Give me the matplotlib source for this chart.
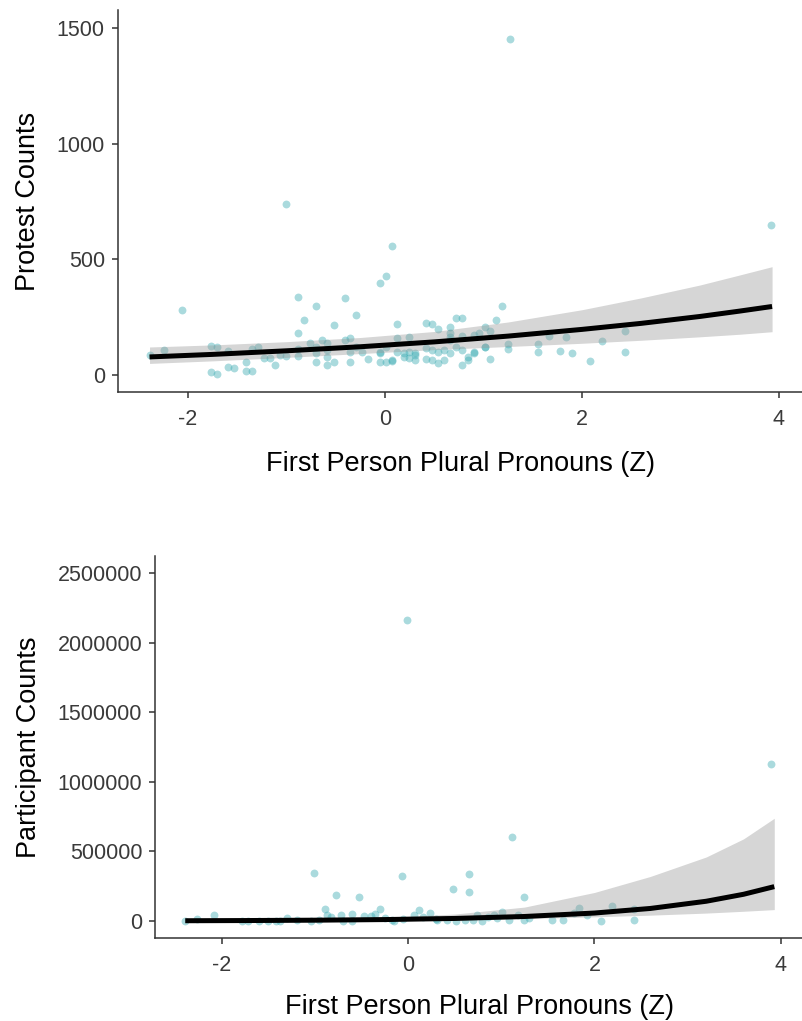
import matplotlib
matplotlib.use("Agg")
import matplotlib.pyplot as plt
import numpy as np

plt.rcParams['font.family'] = ['Liberation Sans', 'DejaVu Sans']

# ---------------- data: protest counts (top panel) ----------------
protest_x = [-2.39, -2.24, -2.06, -1.77, -1.71, -1.77, -1.71, -1.59, -1.59, -1.53, -1.41, -1.41,
             -1.35, -1.35, -1.29, -1.23, -1.17, -1.12, -1.07, -1.00, -1.00, -0.88, -0.88, -0.88,
             -0.88, -0.82, -0.76, -0.70, -0.70, -0.70, -0.70, -0.64, -0.59, -0.59, -0.59, -0.59,
             -0.52, -0.52, -0.41, -0.41, -0.35, -0.35, -0.35, -0.29, -0.29, -0.23, -0.17, -0.05,
             -0.05, -0.05, -0.05, 0.01, 0.01, 0.01, 0.07, 0.07, 0.07, 0.12, 0.12, 0.12, 0.19,
             0.19, 0.24, 0.24, 0.24, 0.30, 0.30, 0.30, 0.42, 0.42, 0.42, 0.48, 0.48, 0.48, 0.54,
             0.54, 0.54, 0.60, 0.60, 0.66, 0.66, 0.66, 0.66, 0.66, 0.72, 0.72, 0.78, 0.78, 0.78,
             0.78, 0.84, 0.84, 0.90, 0.90, 0.90, 0.95, 1.02, 1.02, 1.02, 1.07, 1.07, 1.13, 1.19,
             1.25, 1.25, 1.27, 1.55, 1.55, 1.67, 1.78, 1.84, 1.90, 2.08, 2.20, 2.44, 2.44, 3.92]
protest_y = [85, 108, 281, 127, 122, 14, 4, 105, 33, 29, 57, 17,
             19, 112, 122, 75, 75, 43, 86, 83, 739, 338, 183, 112,
             82, 236, 137, 300, 122, 94, 57, 151, 137, 108, 79, 42,
             215, 57, 331, 151, 158, 98, 57, 258, 122, 98, 68, 399,
             94, 57, 101, 429, 122, 57, 557, 65, 62, 222, 158, 101, 94,
             76, 166, 101, 72, 94, 65, 86, 226, 115, 68, 220, 65, 108, 199,
             101, 50, 108, 65, 209, 180, 166, 151, 94, 245, 122, 245, 170, 108,
             43, 65, 79, 173, 94, 101, 180, 209, 122, 119, 191, 68, 238, 297,
             132, 112, 1452, 134, 98, 170, 105, 164, 95, 60, 147, 190, 101, 648]

# fitted curve and confidence band
fit_x = [-2.39, -1.75, -1.0, -0.25, 0.5, 1.25, 2.0, 2.6, 3.2, 3.6, 3.93]
protest_fit = [78, 89, 104.5, 122, 143, 168, 197, 223, 253, 276, 296]
protest_lo = [50, 61, 76, 92.5, 109.5, 123, 137, 150, 165, 176, 187]
protest_hi = [121, 130, 144, 162, 188, 229, 282, 333, 389, 432, 468]

# ---------------- data: participant counts (bottom panel) ----------------
part_x = [-0.01, 3.90, 1.12, -1.01, -0.06, 0.65, 0.48, 0.65, 1.24, -0.30, -0.77, -0.53, -0.89,
          -2.08, -2.26, -1.78, -1.72, -1.60, -1.42, -1.37, -1.30, -1.19, -1.04, -0.87, -0.83,
          -0.72, -0.70, -0.60, -0.60, -0.47, -0.40, -0.35, -0.25, -0.17, -0.05, 0.06, 0.12,
          0.16, 0.24, 0.31, 0.42, 0.52, 0.61, 0.74, 0.79, 0.86, 0.92, 1.01, 1.08, 1.18, 1.24,
          1.54, 1.66, 1.78, 1.84, 1.92, 2.07, 2.19, 2.43, 2.43,
          -2.39, -1.50, -0.95, -0.15, 0.30, 0.70, 0.95, 1.30]
part_y = [2162000, 1128000, 603000, 347000, 323000, 338000, 230000, 206000, 172000, 84000,
          187000, 170000, 84000, 43000, 12000, 0, 0, 0, 0, 0, 19000, 7000, 0, 43000, 31000,
          43000, 0, 50000, 0, 36000, 36000, 50000, 19000, 7000, 12000, 43000, 79000,
          31000, 55000, 7000, 7000, 0, 7000, 43000, 0, 31000, 43000, 67000, 7000, 43000, 7000,
          7000, 7000, 55000, 91000, 43000, 2000, 110000, 84000, 7000,
          1000, 2000, 5000, 3000, 15000, 10000, 20000, 25000]

part_fit = [2060, 3350, 5910, 10400, 18400, 32500, 57300, 90200, 142000, 192000, 247000]
part_lo = [1000, 1600, 2800, 5000, 8000, 17000, 30000, 42000, 57000, 70000, 82000]
part_hi = [5000, 8000, 14000, 27000, 50000, 100000, 205000, 320000, 460000, 590000, 738000]

protest_ticks = [0, 500, 1000, 1500]
part_ticks = [0, 500000, 1000000, 1500000, 2000000, 2500000]
x_ticks = [-2, 0, 2, 4]

W, H = 802, 1021
fig = plt.figure(figsize=(W / 100, H / 100), dpi=100)

XLIM = (-2.71, 4.25)


def axes_px(left, right, top, bottom):
    return fig.add_axes([left / W, 1 - bottom / H, (right - left) / W, (bottom - top) / H])


ax1 = axes_px(118, 803.6, 10, 392)
ax2 = axes_px(155.4, 804.1, 556, 938)

point_color = '#35a8b0'
axis_col = '#333333'


def style(ax, ylabel, yticks, xlabelpad):
    for s in ['top', 'right']:
        ax.spines[s].set_visible(False)
    for s in ['left', 'bottom']:
        ax.spines[s].set_color(axis_col)
        ax.spines[s].set_linewidth(1.1)
    ax.tick_params(axis='both', colors=axis_col, length=4.5, width=1.1,
                   labelsize=15.5, labelcolor='#3a3a3a')
    ax.tick_params(axis='x', pad=8)
    ax.tick_params(axis='y', pad=5)
    ax.set_xticks(x_ticks)
    ax.set_xticklabels([str(t) for t in x_ticks])
    ax.set_yticks(yticks)
    ax.set_yticklabels([str(t) for t in yticks])
    ax.set_xlim(*XLIM)
    ax.set_xlabel('First Person Plural Pronouns (Z)', fontsize=19.5, color='black',
                  labelpad=xlabelpad)
    ax.set_ylabel(ylabel, fontsize=19.5, color='black', labelpad=11)
    ax.set_facecolor('white')


# top panel
ax1.scatter(protest_x, protest_y, s=32, color=point_color, alpha=0.42, linewidths=0, zorder=2)
ax1.fill_between(fit_x, protest_lo, protest_hi, color='#999999', alpha=0.4, linewidth=0, zorder=3)
ax1.plot(fit_x, protest_fit, color='black', linewidth=3.6, solid_capstyle='butt', zorder=4)
style(ax1, 'Protest Counts', protest_ticks, 15)
ax1.set_ylim(-73.5, 1577)

# bottom panel
ax2.scatter(part_x, part_y, s=32, color=point_color, alpha=0.42, linewidths=0, zorder=2)
ax2.fill_between(fit_x, part_lo, part_hi, color='#999999', alpha=0.4, linewidth=0, zorder=3)
ax2.plot(fit_x, part_fit, color='black', linewidth=3.6, solid_capstyle='butt', zorder=4)
style(ax2, 'Participant Counts', part_ticks, 13)
ax2.set_ylim(-122000, 2622000)

fig.savefig('out.png', dpi=100, facecolor='white')
